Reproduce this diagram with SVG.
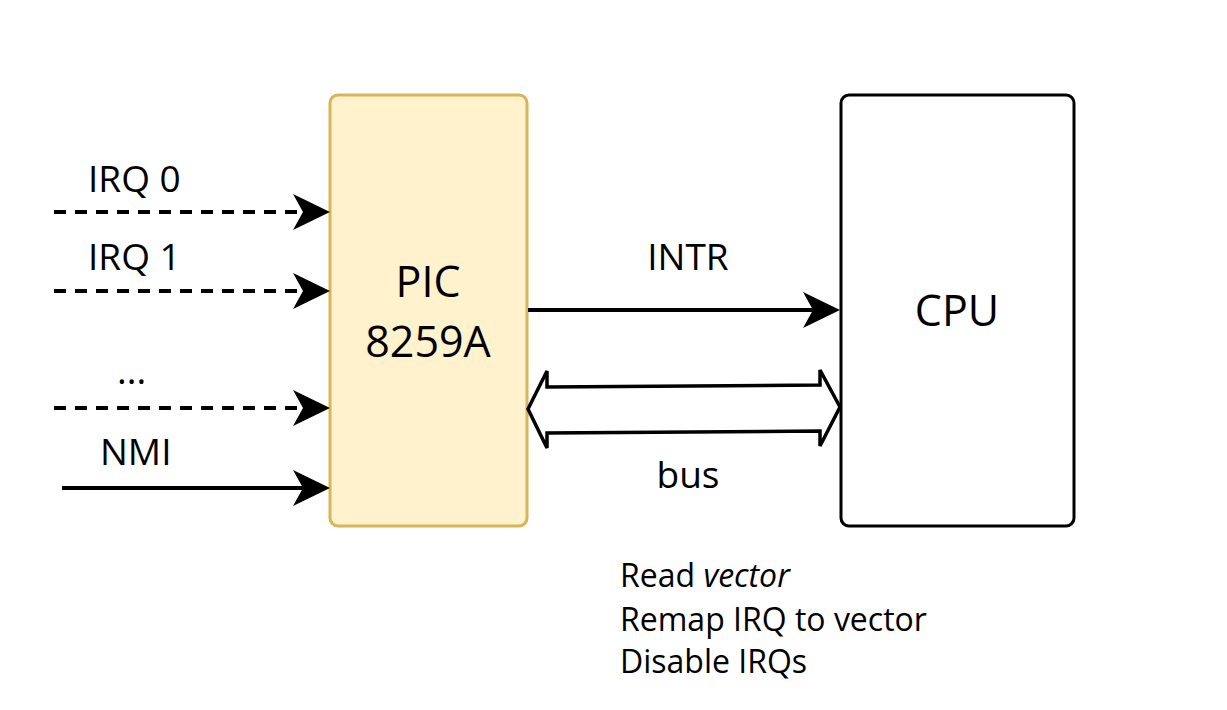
<svg xmlns="http://www.w3.org/2000/svg" width="1227" height="710" viewBox="0 0 1227 710">
<style>
text{font-family:"Open Sans","Noto Sans",sans-serif;fill:#000}
.lbl{font-size:37px}
.big{font-size:43px}
.note{font-size:32px}
.ln{stroke:#000;stroke-width:4;fill:none}
.dash{stroke-dasharray:12 9}
.ah{fill:#000;stroke:none}
</style>
<defs>
<path id="ah" d="M0,0 L-37,-18 L-27,0 L-37,18 Z"/>
</defs>
<rect width="1227" height="710" fill="#fff"/>
<g id="pic">
<rect x="330" y="95" width="197" height="431" rx="8" fill="#fff2cc" stroke="#d6b656" stroke-width="3"/>
<text class="big" x="428" y="297" text-anchor="middle">PIC</text>
<text class="big" x="428" y="357" text-anchor="middle">8259A</text>
</g>
<g id="cpu">
<rect x="841" y="95" width="233" height="431" rx="8" fill="#fff" stroke="#000" stroke-width="3"/>
<text class="big" x="957" y="326" text-anchor="middle">CPU</text>
</g>
<g id="connectors">
<path class="ln dash" d="M54,212 H305"/>
<use href="#ah" class="ah" transform="translate(330,212)"/>
<path class="ln dash" d="M54,291 H305"/>
<use href="#ah" class="ah" transform="translate(330,291)"/>
<path class="ln dash" d="M54,408 H305"/>
<use href="#ah" class="ah" transform="translate(330,408)"/>
<path class="ln" d="M62,488 H305"/>
<use href="#ah" class="ah" transform="translate(330,488)"/>
<path class="ln" d="M528,310 H815"/>
<use href="#ah" class="ah" transform="translate(840,310)"/>
<polygon points="528,409 547,371 547,387 820,385 820,370 840,407 820,446 820,431 547,433 547,448" fill="#fff" stroke="#000" stroke-width="3.5" stroke-linejoin="miter"/>
</g>
<g id="labels">
<text class="lbl" x="88" y="192">IRQ 0</text>
<text class="lbl" x="88" y="270">IRQ 1</text>
<text class="lbl" x="117" y="384">...</text>
<text class="lbl" x="100" y="465">NMI</text>
<text class="lbl" x="688" y="270" text-anchor="middle">INTR</text>
<text class="lbl" x="688" y="488" text-anchor="middle">bus</text>
</g>
<g id="notes">
<text class="note" x="620" y="587">Read <tspan font-style="italic">vector</tspan></text>
<text class="note" x="620" y="631">Remap IRQ to vector</text>
<text class="note" x="620" y="673">Disable IRQs</text>
</g>
</svg>
